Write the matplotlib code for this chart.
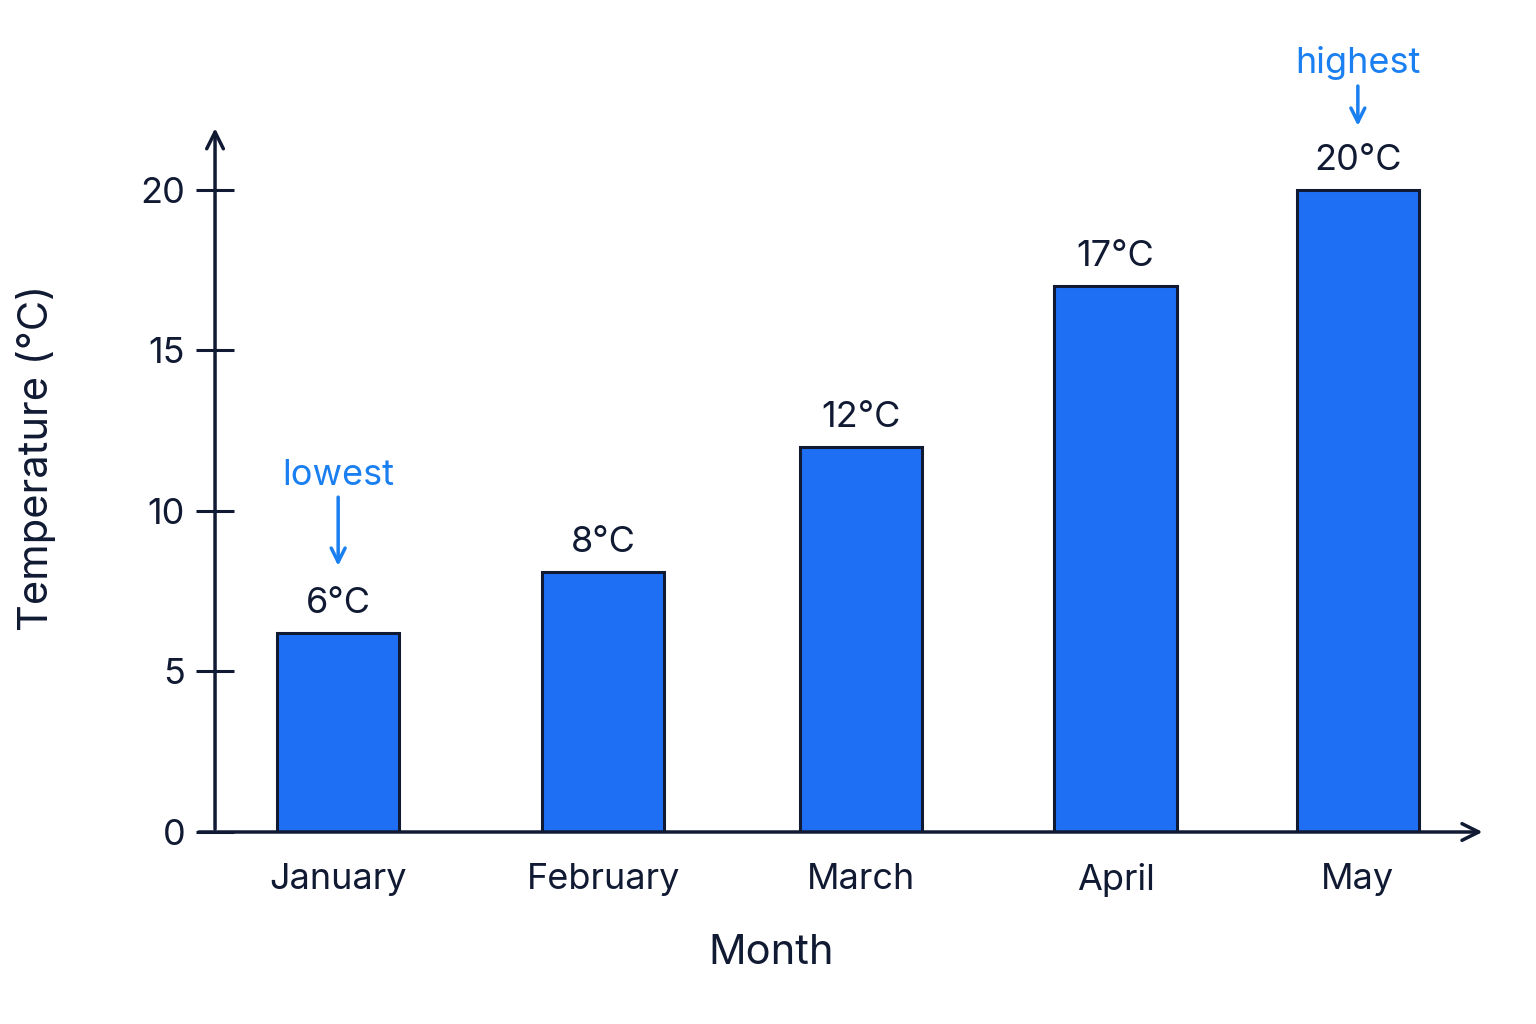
import matplotlib.pyplot as plt

months = ["January", "February", "March", "April", "May"]
temps = [6.2, 8.1, 12, 17, 20]
value_labels = ["6°C", "8°C", "12°C", "17°C", "20°C"]
yticks = [0, 5, 10, 15, 20]
# bar centres are not quite evenly spaced in the original
positions = [0, 1.04, 2.05, 3.05, 4.0]

navy = "#111a33"
bar_blue = "#1f6ff5"
note_blue = "#1a7ff0"

plt.rcParams["font.family"] = ["Inter", "DejaVu Sans"]

fig = plt.figure(figsize=(15.36, 10.24), dpi=100)
ax = fig.add_axes([0.14, 0.1875, 0.827, 0.69])

ax.bar(positions, temps, width=0.48, color=bar_blue, edgecolor=navy, linewidth=2.2, zorder=2)

for xi, t, lab in zip(positions, temps, value_labels):
    ax.text(xi, t + 0.4, lab, ha="center", va="bottom", fontsize=26, color=navy)

ax.set_xlim(-0.483, 4.5)
ax.set_ylim(0, 22)

for s in ax.spines.values():
    s.set_visible(False)

# axes with arrowheads
ax.annotate("", xy=(1.0, 0), xytext=(-0.015, 0), xycoords="axes fraction",
            arrowprops=dict(arrowstyle="->", color=navy, lw=2.5, mutation_scale=30))
ax.annotate("", xy=(0, 1.0), xytext=(0, 0), xycoords="axes fraction",
            arrowprops=dict(arrowstyle="->", color=navy, lw=2.5, mutation_scale=30))

ax.set_yticks(yticks)
ax.set_xticks(positions)
ax.set_xticklabels(months)
ax.tick_params(axis="y", direction="inout", length=27, width=2.2, color=navy,
               labelsize=26, labelcolor=navy, pad=8)
ax.tick_params(axis="x", length=0, labelsize=26, labelcolor=navy, pad=22)

ax.set_xlabel("Month", fontsize=30, color=navy)
ax.xaxis.set_label_coords(0.438, -0.145)
ax.set_ylabel("Temperature (°C)", fontsize=30, color=navy)
ax.yaxis.set_label_coords(-0.125, 0.53)

# notes for lowest and highest
lo = temps.index(min(temps))
hi = temps.index(max(temps))
ax.annotate("lowest", xy=(positions[lo], temps[lo] + 2.0), xytext=(positions[lo], temps[lo] + 4.4),
            ha="center", va="bottom", fontsize=26, color=note_blue,
            arrowprops=dict(arrowstyle="->", color=note_blue, lw=2.5, mutation_scale=25))
ax.annotate("highest", xy=(positions[hi], temps[hi] + 1.9), xytext=(positions[hi], temps[hi] + 3.4),
            ha="center", va="bottom", fontsize=26, color=note_blue, annotation_clip=False,
            arrowprops=dict(arrowstyle="->", color=note_blue, lw=2.5, mutation_scale=25))

fig.savefig("out.png", dpi=100, facecolor="white")
